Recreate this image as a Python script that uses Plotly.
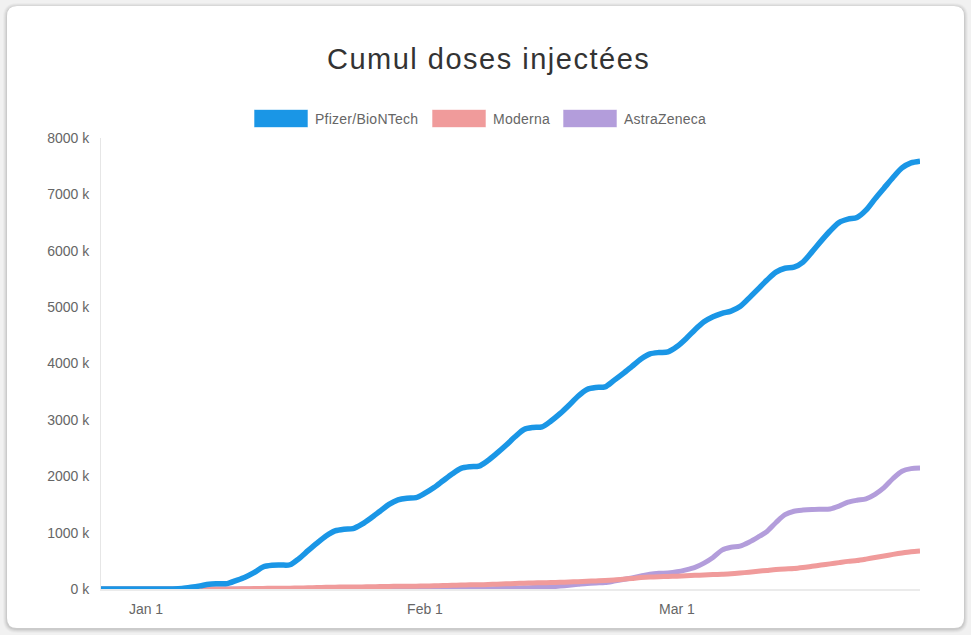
import pandas as pd
import plotly.graph_objects as go

# ---------------- data (thousands of doses, daily from 2020-12-27) ----------------
start_date = "2020-12-27"
series_names = ["Pfizer/BioNTech", "Moderna", "AstraZeneca"]

pfizer = [
    0, 0, 0, 0, 0, 0, 0, 0,                     # Dec 27 - Jan 3
    2, 10, 30, 55, 85, 92, 95,                  # Jan 4 - Jan 10
    150, 210, 290, 390, 420, 425, 430,          # Jan 11 - 17
    540, 680, 815, 940, 1030, 1060, 1070,       # Jan 18 - 24
    1150, 1260, 1380, 1500, 1580, 1610, 1620,   # Jan 25 - 31
    1700, 1800, 1920, 2040, 2140, 2170, 2180,   # Feb 1 - 7
    2280, 2410, 2550, 2700, 2830, 2865, 2875,   # Feb 8 - 14
    2980, 3110, 3260, 3420, 3540, 3575, 3585,   # Feb 15 - 21
    3700, 3820, 3950, 4080, 4170, 4195, 4205,   # Feb 22 - 28
    4300, 4440, 4600, 4740, 4830, 4890, 4930,   # Mar 1 - 7
    5010, 5160, 5320, 5480, 5620, 5690, 5710,   # Mar 8 - 14
    5800, 5980, 6170, 6350, 6500, 6560, 6590,   # Mar 15 - 21
    6720, 6920, 7110, 7300, 7470, 7560, 7590,   # Mar 22 - 28
]

moderna = [
    0, 0, 0, 0, 0, 0, 0, 0,
    0, 0, 0, 0, 0, 0, 0,
    2, 5, 8, 11, 14, 15, 15,
    18, 22, 26, 30, 33, 34, 34,
    37, 40, 43, 46, 48, 49, 50,
    53, 57, 61, 66, 71, 74, 75,
    80, 86, 92, 98, 104, 108, 110,
    114, 119, 124, 130, 138, 144, 150,
    160, 174, 188, 202, 212, 218, 222,
    228, 235, 242, 249, 255, 262, 270,
    283, 298, 314, 330, 345, 355, 362,
    380, 402, 424, 446, 468, 490, 505,
    530, 558, 586, 614, 640, 662, 675,
]

astrazeneca = [
    0, 0, 0, 0, 0, 0, 0, 0,
    0, 0, 0, 0, 0, 0, 0,
    0, 0, 0, 0, 0, 0, 0,
    0, 0, 0, 0, 0, 0, 0,
    0, 0, 0, 0, 0, 0, 0,
    0, 0, 0, 0, 0, 1, 2,
    4, 7, 11, 16, 22, 26, 30,
    40, 52, 66, 82, 98, 108, 115,
    140, 168, 198, 230, 262, 278, 285,
    305, 340, 385, 460, 560, 690, 740,
    762, 830, 920, 1020, 1180, 1320, 1380,
    1400, 1410, 1415, 1420, 1470, 1540, 1575,
    1600, 1680, 1800, 1960, 2090, 2135, 2145,
]

y_tick_values = [0, 1000, 2000, 3000, 4000, 5000, 6000, 7000, 8000]
y_tick_labels = ["0 k", "1000 k", "2000 k", "3000 k", "4000 k", "5000 k", "6000 k", "7000 k", "8000 k"]
x_tick_values = ["2021-01-01", "2021-02-01", "2021-03-01"]
x_tick_labels = ["Jan 1", "Feb 1", "Mar 1"]

colors = ["#1a96e6", "#f09b9b", "#b39ddb"]
title_text = "Cumul doses injectées"

dates = pd.date_range(start_date, periods=len(pfizer), freq="D")

# ---------------- layout geometry (pixels) ----------------
W, H = 971, 635
PL, PR, PT, PB = 101, 920, 138, 589   # plot area edges
FONT = "Liberation Sans, Arial, sans-serif"


def px_x(x):
    return (x - PL) / (PR - PL)


def px_y(y):
    return (PB - y) / (PB - PT)


fig = go.Figure()

# draw order: AstraZeneca bottom, Pfizer on top
series = [pfizer, moderna, astrazeneca]
widths = [5.5, 5, 5]
for i in [2, 1, 0]:
    fig.add_trace(go.Scatter(
        x=dates, y=series[i], name=series_names[i], mode="lines",
        line=dict(color=colors[i], width=widths[i], shape="spline", smoothing=0.8),
        showlegend=False, hoverinfo="skip",
    ))

shapes = []


def rounded_rect(x0, y0, x1, y1, r, fill):
    X0, X1 = px_x(x0), px_x(x1)
    Y0, Y1 = px_y(y0), px_y(y1)
    rx = r / (PR - PL)
    ry = r / (PB - PT)
    path = (
        f"M {X0 + rx},{Y0} L {X1 - rx},{Y0} Q {X1},{Y0} {X1},{Y0 - ry} "
        f"L {X1},{Y1 + ry} Q {X1},{Y1} {X1 - rx},{Y1} "
        f"L {X0 + rx},{Y1} Q {X0},{Y1} {X0},{Y1 + ry} "
        f"L {X0},{Y0 - ry} Q {X0},{Y0} {X0 + rx},{Y0} Z"
    )
    return dict(type="path", path=path, xref="paper", yref="paper",
                fillcolor=fill, line=dict(color="rgba(0,0,0,0)", width=0), layer="below")


# card shadow + card
for k, a in [(4, 0.025), (3, 0.035), (2, 0.045), (1, 0.06)]:
    shapes.append(rounded_rect(7 - k, 6 - k + 1, 964 + k, 628 + k + 1, 10 + k, f"rgba(0,0,0,{a})"))
shapes.append(rounded_rect(7, 6, 964, 628, 10, "#ffffff"))

# legend boxes
legend_boxes = [(254, 308), (432, 486), (563, 617)]
legend_text_x = [313, 491, 622]
annotations = []
for i in range(3):
    bx0, bx1 = legend_boxes[i]
    shapes.append(dict(type="rect", xref="paper", yref="paper",
                       x0=px_x(bx0), x1=px_x(bx1), y0=px_y(127.5), y1=px_y(109.5),
                       fillcolor=colors[i], line=dict(color="rgba(255,255,255,0.6)", width=1),
                       layer="above"))
    annotations.append(dict(text=f'<span style="letter-spacing:0.25px">{series_names[i]}</span>',
                            xref="paper", yref="paper",
                            x=px_x(legend_text_x[i]), y=px_y(118.5), xanchor="left", yanchor="middle",
                            showarrow=False, font=dict(size=14, color="#666666", family=FONT)))

annotations.append(dict(text=f'<span style="letter-spacing:1.5px">{title_text}</span>',
                        xref="paper", yref="paper",
                        x=px_x(488), y=px_y(59), xanchor="center", yanchor="middle",
                        showarrow=False, font=dict(size=29, color="#333333", family=FONT)))

fig.update_layout(
    width=W, height=H,
    margin=dict(l=PL, r=W - PR, t=PT, b=H - PB, autoexpand=False),
    paper_bgcolor="#f1f1f1",
    plot_bgcolor="rgba(0,0,0,0)",
    shapes=shapes,
    annotations=annotations,
    showlegend=False,
    font=dict(family=FONT, color="#666666", size=13),
)

fig.update_xaxes(
    type="date",
    range=[dates[0], dates[-1]],
    tickvals=x_tick_values, ticktext=x_tick_labels,
    showgrid=False, zeroline=False,
    showline=True, linecolor="#ebebeb", linewidth=2,
    ticks="outside", ticklen=6, tickcolor="rgba(0,0,0,0)",
    tickfont=dict(size=14, color="#666666"),
)
fig.update_yaxes(
    range=[0, 8000],
    tickvals=y_tick_values, ticktext=y_tick_labels,
    showgrid=False, zeroline=False,
    showline=True, linecolor="#e6e6e6", linewidth=1,
    ticks="outside", ticklen=8, tickcolor="rgba(0,0,0,0)",
    tickfont=dict(size=14, color="#666666"),
)

fig.write_html("out.html",
               config={"displayModeBar": False},
               post_script="document.body.style.margin='0';document.body.style.overflow='hidden';")
